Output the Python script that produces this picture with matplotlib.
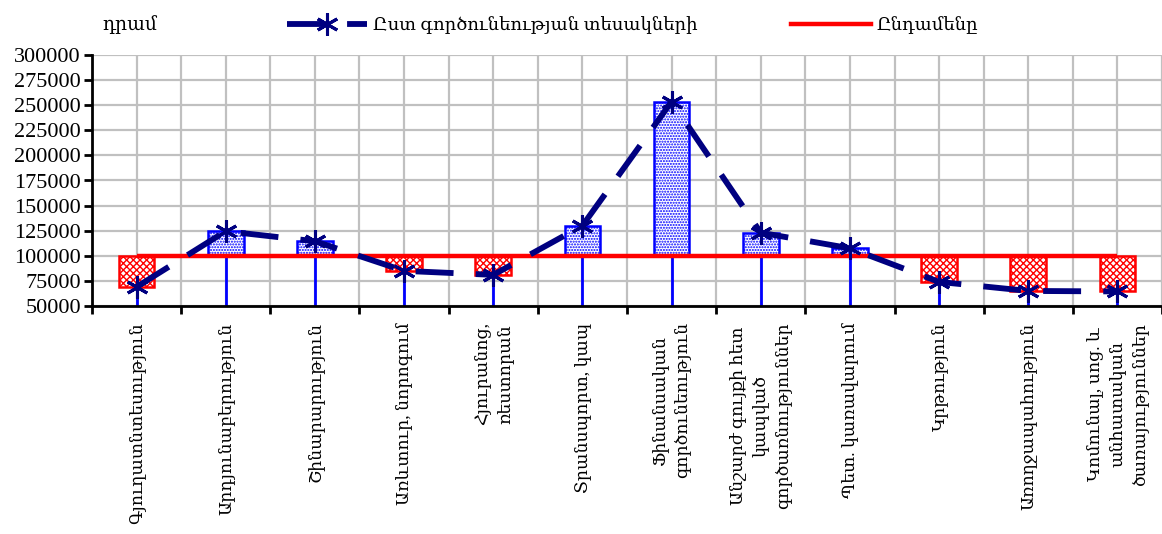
import matplotlib
matplotlib.use("Agg")
import matplotlib.pyplot as plt
from matplotlib.lines import Line2D
import numpy as np

plt.rcParams['font.family'] = ['Liberation Serif', 'DejaVu Serif', 'DejaVu Sans']
plt.rcParams['hatch.linewidth'] = 1.0

categories = [
    "Գյուղատնտեսություն",
    "Արդյունաբերություն",
    "Շինարարություն",
    "Առևտուր, նորոգում",
    "Հյուրանոց,\nռեստորան",
    "Տրանսպորտ, կապ",
    "Ֆինանսական\nգործունեություն",
    "Անշարժ գույքի հետ\nկապված\nգործառնություններ",
    "Պետ. կառավարում",
    "Կրթություն",
    "Առողջապահություն",
    "Կոմունալ, սոց. և\nանհատական\nծառայություններ",
]
by_activity = [69000, 124500, 114500, 85000, 81000, 130000, 253500, 123000, 107500, 74000, 65000, 64500]
total = [100000] * 12
y_ticks = [50000, 75000, 100000, 125000, 150000, 175000, 200000, 225000, 250000, 275000, 300000]
series_names = ["Ըստ գործունեության տեսակների", "Ընդամենը"]
unit_label = "դրամ"

navy = "#000080"
fig = plt.figure(figsize=(11.62, 5.34), dpi=100)
ax = fig.add_axes([92 / 1162, 1 - 306 / 534, 1 - 92 / 1162, (306 - 55) / 534])

x = np.arange(len(categories))
ax.set_xlim(-0.5, len(categories) - 0.5)
ax.set_ylim(y_ticks[0], y_ticks[-1])

# grid
for yv in y_ticks:
    ax.axhline(yv, color="#c0c0c0", lw=1.6, zorder=0)
for xv in np.arange(-0.5, len(categories), 0.5):
    ax.axvline(xv, color="#c0c0c0", lw=1.6, zorder=0)

# drop lines
ax.vlines(x, y_ticks[0], by_activity, colors="#0000ff", lw=2, zorder=2)

# up/down bars
for xi, v, t in zip(x, by_activity, total):
    up = v >= t
    col = "#0000ff" if up else "#ff0000"
    hatch = "......" if up else "xxxxx"
    ax.bar(xi, v - t, bottom=t, width=0.4, facecolor="white", edgecolor=col,
           hatch=hatch, lw=1.8, zorder=3)

# total line
ax.plot(x, total, color="#ff0000", lw=3.2, solid_capstyle="butt", zorder=4,
        label=series_names[1])
# series line
ax.plot(x, by_activity, color=navy, lw=4.2, dashes=(6.5, 3.8), marker=(6, 2, 0),
        markersize=16, markeredgewidth=2.2, markeredgecolor=navy, zorder=5,
        label=series_names[0])

ax.set_yticks(y_ticks)
ax.set_yticklabels([str(v) for v in y_ticks])
ax.set_xticks(np.arange(-0.5, len(categories), 1.0))
ax.set_xticklabels([])
ax.tick_params(axis="both", direction="out", length=6, width=2, color="black")
ax.tick_params(axis="y", pad=2, labelsize=16)
for s in ["top", "right"]:
    ax.spines[s].set_visible(False)
for s in ["left", "bottom"]:
    ax.spines[s].set_linewidth(2)
    ax.spines[s].set_zorder(6)

# category labels
for xi, lab in zip(x, categories):
    ax.text(xi, -0.065, lab, transform=ax.get_xaxis_transform(), rotation=90,
            ha="center", va="top", multialignment="center", fontsize=12.5,
            linespacing=1.45)

# unit label
fig.text(102 / 1162, 1 - 25 / 534, unit_label, fontsize=13.5, ha="left", va="center")

# legend
h1 = Line2D([], [], color=navy, lw=4.2, dashes=(6.5, 3.8), marker=(6, 2, 0),
            markersize=16, markeredgewidth=2.2)
h2 = Line2D([], [], color="#ff0000", lw=3.2)
fig.legend([h1, h2], series_names, ncol=2, frameon=False, fontsize=13,
           loc="center left", bbox_to_anchor=(283 / 1162 - 0.004, 1 - 25 / 534),
           handlelength=4.4, handletextpad=0.33, columnspacing=5.2, borderpad=0)

fig.savefig("out.png", dpi=100)
